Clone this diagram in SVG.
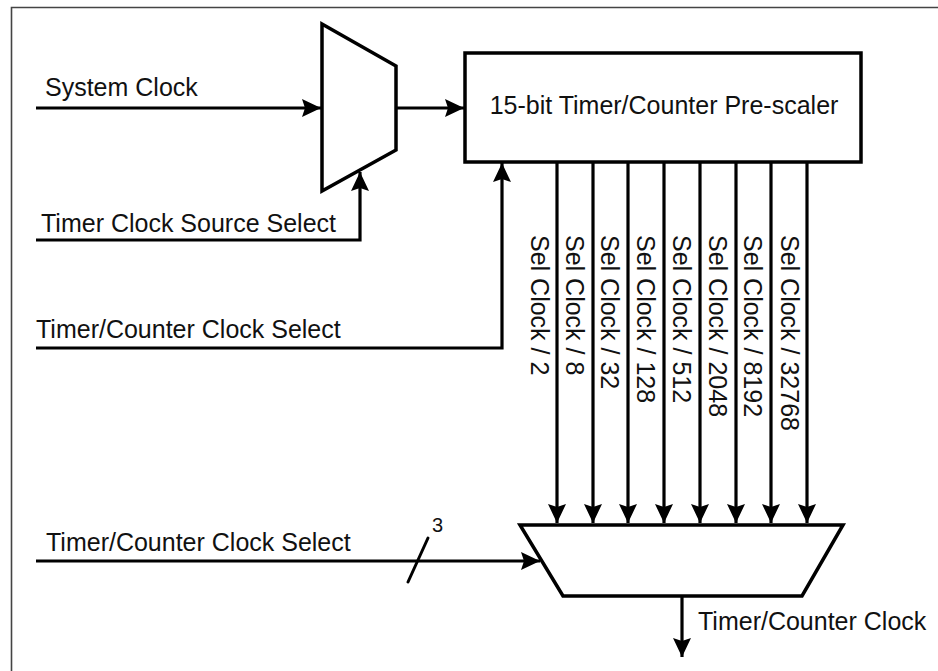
<svg xmlns="http://www.w3.org/2000/svg" width="938" height="671" viewBox="0 0 938 671">
<style>
.t{font-family:"Liberation Sans",Arial,sans-serif;font-size:25px;fill:#111}
.v{font-family:"Liberation Sans",Arial,sans-serif;font-size:25px;fill:#111}
.s{font-family:"Liberation Sans",Arial,sans-serif;font-size:20px;fill:#111}
.w{fill:none;stroke:#000;stroke-width:3;stroke-linecap:round;stroke-linejoin:round}
.a{fill:none;stroke:#000;stroke-width:3.2;marker-end:url(#ah)}
.n{fill:#fff;stroke:#000;stroke-width:3.5;stroke-linejoin:miter}
</style>
<defs>
<marker id="ah" markerUnits="userSpaceOnUse" markerWidth="22" markerHeight="22" viewBox="-20 -11 22 22" refX="0" refY="0" orient="auto">
<path d="M0,0 L-19,-9 L-16,0 L-19,9 Z" fill="#000"/>
</marker>
</defs>
<rect width="938" height="671" fill="#fff"/>
<path d="M11.5,671 V7.5 H938" fill="none" stroke="#444" stroke-width="1.6"/>

<g id="mux1">
<path class="n" d="M322,24 L396,66 L396,150 L322,191 Z"/>
</g>

<g id="prescaler">
<rect class="n" x="465" y="53" width="396" height="109"/>
<text class="t" x="664" y="114" text-anchor="middle">15-bit Timer/Counter Pre-scaler</text>
</g>

<g id="mux2">
<path class="n" d="M520,525 L843,525 L802,596 L563,596 Z"/>
</g>

<g id="labels">
<text class="t" x="45" y="96">System Clock</text>
<text class="t" x="41" y="232">Timer Clock Source Select</text>
<text class="t" x="36" y="338">Timer/Counter Clock Select</text>
<text class="t" x="46" y="551">Timer/Counter Clock Select</text>
<text class="s" x="432" y="532">3</text>
<text class="t" x="698" y="630">Timer/Counter Clock</text>
</g>

<g id="sel-labels">
<text class="v" transform="translate(530.5,235) rotate(90)">Sel Clock / 2</text>
<text class="v" transform="translate(566,235) rotate(90)">Sel Clock / 8</text>
<text class="v" transform="translate(601,235) rotate(90)">Sel Clock / 32</text>
<text class="v" transform="translate(637,235) rotate(90)">Sel Clock / 128</text>
<text class="v" transform="translate(673,235) rotate(90)">Sel Clock / 512</text>
<text class="v" transform="translate(709,235) rotate(90)">Sel Clock / 2048</text>
<text class="v" transform="translate(744,235) rotate(90)">Sel Clock / 8192</text>
<text class="v" transform="translate(780.5,235) rotate(90)">Sel Clock / 32768</text>
</g>

<g id="connectors">
<path class="a" d="M36,108 H321"/>
<path class="a" d="M396,108 H464"/>
<path class="a" d="M36,240 H360 V172"/>
<path class="a" d="M36,348 H502 V163"/>
<path class="a" d="M557,162 V523"/>
<path class="a" d="M593,162 V523"/>
<path class="a" d="M628,162 V523"/>
<path class="a" d="M664,162 V523"/>
<path class="a" d="M700,162 V523"/>
<path class="a" d="M736,162 V523"/>
<path class="a" d="M771,162 V523"/>
<path class="a" d="M807,162 V523"/>
<path class="a" d="M36,561 H540"/>
<path class="w" d="M408,582 L428,538"/>
<path class="a" d="M682,596 V657"/>
</g>
</svg>
